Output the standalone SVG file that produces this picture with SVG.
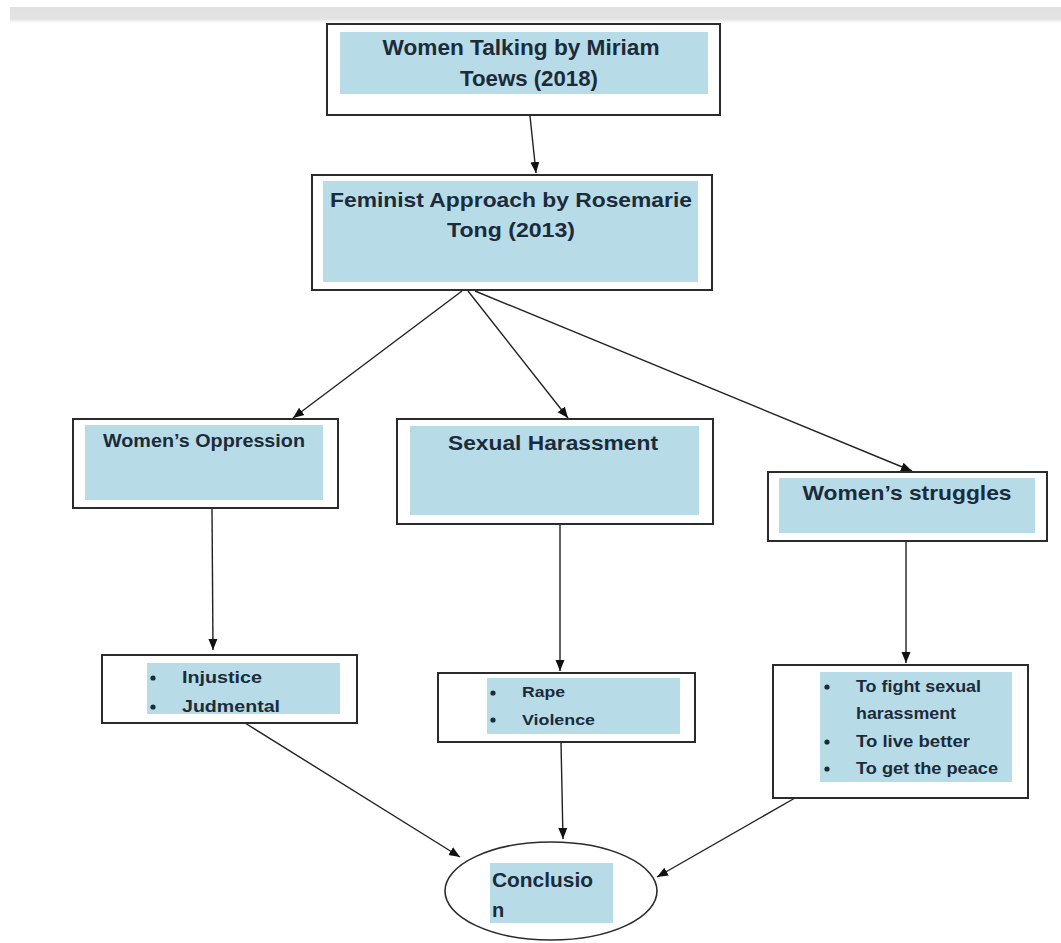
<svg xmlns="http://www.w3.org/2000/svg" width="1061" height="943" viewBox="0 0 1061 943">
<style>
.frame{fill:#fff;stroke:#2b2b2b;stroke-width:2}
.fill{fill:#b7dce8}
.t{font-family:"Liberation Sans",Arial,sans-serif;font-weight:bold;fill:#1c2b3a}
.c{stroke:#222;stroke-width:1.4;fill:none}
.dot{fill:#1c2b3a}
</style>
<defs>
<linearGradient id="bar" x1="0" y1="0" x2="0" y2="1">
<stop offset="0" stop-color="#e1e1e1"/>
<stop offset="0.75" stop-color="#e3e3e3"/>
<stop offset="1" stop-color="#ffffff"/>
</linearGradient>
<marker id="ah" markerUnits="userSpaceOnUse" markerWidth="12" markerHeight="12" viewBox="0 0 12 12" refX="11" refY="6" orient="auto">
<path d="M0,1.5 L11,6 L0,10.5 Z" fill="#111"/>
</marker>
</defs>
<rect x="0" y="0" width="1061" height="943" fill="#fff"/>
<rect x="10" y="7" width="1051" height="16" fill="url(#bar)"/>

<g id="connectors">
<line class="c" x1="530" y1="116" x2="536" y2="173" marker-end="url(#ah)"/>
<line class="c" x1="462" y1="291" x2="293" y2="418" marker-end="url(#ah)"/>
<line class="c" x1="468" y1="291" x2="568" y2="418" marker-end="url(#ah)"/>
<line class="c" x1="475" y1="291" x2="912" y2="471" marker-end="url(#ah)"/>
<line class="c" x1="212" y1="508" x2="213" y2="650" marker-end="url(#ah)"/>
<line class="c" x1="560" y1="512" x2="560" y2="671" marker-end="url(#ah)"/>
<line class="c" x1="906" y1="541" x2="906" y2="663" marker-end="url(#ah)"/>
<line class="c" x1="245" y1="723" x2="460" y2="857" marker-end="url(#ah)"/>
<line class="c" x1="561" y1="742" x2="563" y2="839" marker-end="url(#ah)"/>
<line class="c" x1="795" y1="798" x2="657" y2="877" marker-end="url(#ah)"/>
</g>

<g id="n-novel">
<rect class="frame" x="327" y="24" width="393" height="91"/>
<rect class="fill" x="340" y="32" width="368" height="62"/>
<text class="t" x="521" y="55" font-size="22" text-anchor="middle" textLength="277" lengthAdjust="spacingAndGlyphs">Women Talking by Miriam</text>
<text class="t" x="529" y="86" font-size="22" text-anchor="middle" textLength="138" lengthAdjust="spacingAndGlyphs">Toews (2018)</text>
</g>

<g id="n-approach">
<rect class="frame" x="312" y="175" width="400" height="115"/>
<rect class="fill" x="323" y="181" width="375" height="101"/>
<text class="t" x="511" y="207" font-size="21" text-anchor="middle" textLength="362" lengthAdjust="spacingAndGlyphs">Feminist Approach by Rosemarie</text>
<text class="t" x="511" y="237" font-size="21" text-anchor="middle" textLength="128" lengthAdjust="spacingAndGlyphs">Tong (2013)</text>
</g>

<g id="n-oppression">
<rect class="frame" x="73" y="419" width="265" height="89"/>
<rect class="fill" x="85" y="425" width="238" height="75"/>
<text class="t" x="204" y="447" font-size="18" text-anchor="middle" textLength="202" lengthAdjust="spacingAndGlyphs">Women’s Oppression</text>
</g>

<g id="n-harassment">
<rect class="frame" x="397" y="419" width="316" height="105"/>
<rect class="fill" x="410" y="426" width="289" height="89"/>
<text class="t" x="553" y="450" font-size="20" text-anchor="middle" textLength="210" lengthAdjust="spacingAndGlyphs">Sexual Harassment</text>
</g>

<g id="n-struggles">
<rect class="frame" x="768" y="472" width="279" height="69"/>
<rect class="fill" x="779" y="478" width="256" height="55"/>
<text class="t" x="907" y="500" font-size="21" text-anchor="middle" textLength="209" lengthAdjust="spacingAndGlyphs">Women’s struggles</text>
</g>

<g id="n-list1">
<rect class="frame" x="102" y="655" width="255" height="68"/>
<rect class="fill" x="147" y="663" width="193" height="51"/>
<circle class="dot" cx="153" cy="678" r="2.6"/>
<circle class="dot" cx="153" cy="707" r="2.6"/>
<text class="t" x="182" y="683" font-size="16" textLength="80" lengthAdjust="spacingAndGlyphs">Injustice</text>
<text class="t" x="182" y="712" font-size="16" textLength="98" lengthAdjust="spacingAndGlyphs">Judmental</text>
</g>

<g id="n-list2">
<rect class="frame" x="438" y="673" width="257" height="69"/>
<rect class="fill" x="487" y="678" width="193" height="56"/>
<circle class="dot" cx="493" cy="693" r="2.6"/>
<circle class="dot" cx="493" cy="720" r="2.6"/>
<text class="t" x="522" y="697" font-size="15" textLength="43" lengthAdjust="spacingAndGlyphs">Rape</text>
<text class="t" x="522" y="725" font-size="15" textLength="73" lengthAdjust="spacingAndGlyphs">Violence</text>
</g>

<g id="n-list3">
<rect class="frame" x="773" y="665" width="255" height="133"/>
<rect class="fill" x="820" y="672" width="192" height="110"/>
<circle class="dot" cx="827" cy="687" r="2.6"/>
<circle class="dot" cx="827" cy="742" r="2.6"/>
<circle class="dot" cx="827" cy="769" r="2.6"/>
<text class="t" x="856" y="692" font-size="16" textLength="125" lengthAdjust="spacingAndGlyphs">To fight sexual</text>
<text class="t" x="856" y="719" font-size="16" textLength="100" lengthAdjust="spacingAndGlyphs">harassment</text>
<text class="t" x="856" y="747" font-size="16" textLength="114" lengthAdjust="spacingAndGlyphs">To live better</text>
<text class="t" x="856" y="774" font-size="16" textLength="142" lengthAdjust="spacingAndGlyphs">To get the peace</text>
</g>

<g id="n-conclusion">
<ellipse cx="551" cy="891" rx="106" ry="49" fill="#fff" stroke="#2b2b2b" stroke-width="1.6"/>
<rect class="fill" x="490" y="863" width="123" height="60"/>
<text class="t" x="492" y="887" font-size="20" textLength="101" lengthAdjust="spacingAndGlyphs">Conclusio</text>
<text class="t" x="492" y="917" font-size="20">n</text>
</g>
</svg>
